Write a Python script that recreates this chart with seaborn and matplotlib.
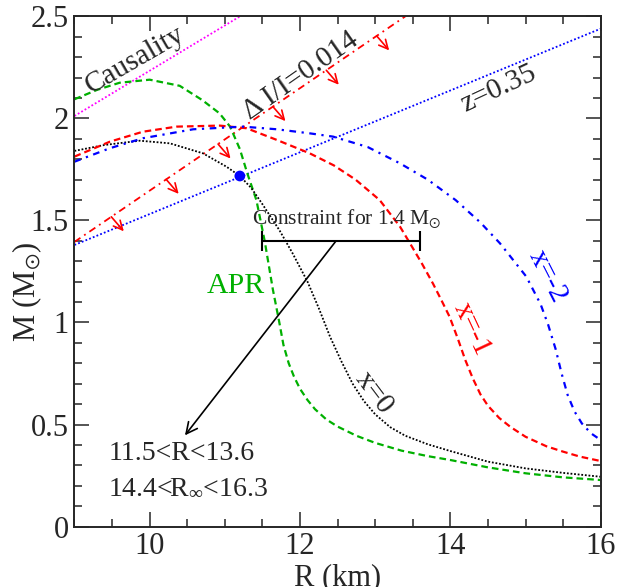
import matplotlib
matplotlib.use("Agg")
import matplotlib.pyplot as plt
import numpy as np
import seaborn as sns

# mass-radius curves (R in km, M in solar masses)
apr_R = [9.0, 9.3, 9.6, 10.0, 10.4, 10.7, 10.93, 11.07, 11.2, 11.3, 11.42, 11.53, 11.64,
         11.72, 11.78, 11.85, 11.92, 12.0, 12.1, 12.2, 12.35, 12.5, 12.75, 13.0, 13.35, 13.7,
         14.0, 14.5, 15.0, 15.5, 16.0]
apr_M = [2.094, 2.14, 2.175, 2.19, 2.16, 2.09, 2.025, 1.96, 1.85, 1.73, 1.60, 1.40, 1.16,
         1.01, 0.89, 0.80, 0.735, 0.675, 0.62, 0.575, 0.525, 0.49, 0.445, 0.41, 0.372, 0.345,
         0.326, 0.29, 0.261, 0.241, 0.228]

x0_R = [9.0, 9.4, 9.87, 10.27, 10.71, 11.02, 11.2, 11.35, 11.5, 11.73, 11.9, 12.1, 12.25,
        12.4, 12.55, 12.7, 12.85, 13.0, 13.2, 13.4, 13.7, 14.0, 14.5, 15.0, 15.5, 16.0]
x0_M = [1.841, 1.87, 1.891, 1.878, 1.829, 1.764, 1.718, 1.66, 1.58, 1.45, 1.34, 1.20, 1.07,
        0.93, 0.81, 0.70, 0.615, 0.55, 0.487, 0.445, 0.403, 0.37, 0.318, 0.285, 0.263, 0.244]

x1_R = [9.0, 9.47, 9.91, 10.36, 10.93, 11.29, 11.69, 12.13, 12.45, 12.74, 13.06, 13.33, 13.46,
        13.62, 13.77, 13.88, 13.99, 14.1, 14.2, 14.3, 14.4, 14.5, 14.65, 14.8, 15.0, 15.28,
        15.5, 15.72, 16.0]
x1_M = [1.813, 1.886, 1.935, 1.96, 1.965, 1.952, 1.895, 1.829, 1.77, 1.70, 1.60, 1.47, 1.39,
        1.29, 1.19, 1.11, 1.028, 0.92, 0.815, 0.725, 0.648, 0.592, 0.532, 0.488, 0.44, 0.393,
        0.367, 0.343, 0.321]

x2_R = [9.0, 9.47, 9.91, 10.58, 11.24, 11.69, 12.13, 12.44, 12.9, 13.33, 13.7, 14.07, 14.4,
        14.66, 15.01, 15.2, 15.3, 15.4, 15.48, 15.56, 15.65, 15.75, 15.87, 16.0]
x2_M = [1.788, 1.854, 1.903, 1.947, 1.96, 1.947, 1.927, 1.911, 1.86, 1.78, 1.70, 1.60, 1.49,
        1.388, 1.225, 1.09, 0.99, 0.87, 0.75, 0.645, 0.565, 0.505, 0.457, 0.424]

# straight constraint lines
causal_R = [9.0, 11.2]
causal_M = [2.012, 2.50]
z_R = [9.0, 16.0]
z_M = [1.38, 2.44]
dI_R = [9.0, 13.4]
dI_M = [1.395, 2.50]
dI_arrow_R = [9.49, 10.22, 10.91, 11.64, 12.35, 13.02]

# measured point and 1.4 Msun radius constraint
star_R = [11.2]
star_M = [1.718]
constraint_R = [11.5, 13.6]
constraint_M = 1.4

sns.set_style("ticks")
plt.rcParams['font.family'] = ['Liberation Serif', 'DejaVu Serif']
plt.rcParams['mathtext.fontset'] = 'stix'
plt.rcParams['mathtext.default'] = 'regular'

green = '#00b000'

fig = plt.figure(figsize=(6.31, 5.87), dpi=100)
ax = fig.add_axes([0.118, 0.103, 0.834, 0.869])

sns.lineplot(x=causal_R, y=causal_M, ax=ax, color='#ff00ff', lw=1.3, linestyle=(0, (1, 1.2)))
sns.lineplot(x=z_R, y=z_M, ax=ax, color='blue', lw=1.3, linestyle=(0, (1, 1.2)))
sns.lineplot(x=dI_R, y=dI_M, ax=ax, color='red', lw=1.3, linestyle=(0, (4, 2.5, 1, 2.5)))

sns.lineplot(x=apr_R, y=apr_M, ax=ax, sort=False, color=green, lw=1.6, linestyle=(0, (3, 1.8)))
sns.lineplot(x=x0_R, y=x0_M, ax=ax, sort=False, color='black', lw=1.3, linestyle=(0, (1, 1)))
sns.lineplot(x=x1_R, y=x1_M, ax=ax, sort=False, color='red', lw=1.6, linestyle=(0, (3, 1.8)))
sns.lineplot(x=x2_R, y=x2_M, ax=ax, sort=False, color='blue', lw=1.6, linestyle=(0, (3, 2.5, 1, 2.5)))

sns.scatterplot(x=star_R, y=star_M, ax=ax, color='blue', s=60, edgecolor='none', zorder=5)

# red arrows on the moment-of-inertia line
for r in dI_arrow_R:
    m = np.interp(r, dI_R, dI_M)
    ax.annotate('', xy=(r + 0.166, m - 0.071), xytext=(r, m),
                arrowprops=dict(arrowstyle='->', color='red', lw=1.2,
                                mutation_scale=16, shrinkA=0, shrinkB=0))

# radius constraint bar
mid = (constraint_R[0] + constraint_R[1]) / 2
half = (constraint_R[1] - constraint_R[0]) / 2
ax.errorbar(mid, constraint_M, xerr=half, fmt='none', ecolor='black',
            elinewidth=1.5, capsize=7.5, capthick=1.5)
ax.text(12.62, 1.51, r'Constraint for 1.4 M$_{\odot}$', fontsize=15.5,
        ha='center', va='center')
ax.annotate('', xy=(10.47, 0.447), xytext=(12.48, constraint_M),
            arrowprops=dict(arrowstyle='->', color='black', lw=1.2,
                            mutation_scale=20, shrinkA=0, shrinkB=0))

ax.text(9.45, 0.36, '11.5<R<13.6', fontsize=20, ha='left', va='center')
ax.text(9.45, 0.19, r'14.4<R$_{\infty}$<16.3', fontsize=20, ha='left', va='center')

ax.text(9.80, 2.287, 'Causality', fontsize=21, rotation=30, ha='center', va='center')
ax.text(12.01, 2.208, 'Δ I/I=0.014', fontsize=21, rotation=35, ha='center', va='center')
ax.text(14.64, 2.145, 'z=0.35', fontsize=21, rotation=25, ha='center', va='center')
ax.text(11.15, 1.18, 'APR', fontsize=21.5, color=green, ha='center', va='center')
ax.text(12.98, 0.654, 'x=0', fontsize=21, rotation=-53, ha='center', va='center')
ax.text(14.29, 0.968, 'x=-1', fontsize=21, rotation=-65, color='red', ha='center', va='center')
ax.text(15.29, 1.228, 'x=-2', fontsize=21, rotation=-63, color='blue', ha='center', va='center')

ax.set_xlim(9, 16)
ax.set_ylim(0, 2.5)
ax.set_xticks([10, 12, 14, 16])
ax.set_xticks(np.arange(9, 16.01, 0.5), minor=True)
ax.set_yticks([0, 0.5, 1, 1.5, 2, 2.5])
ax.set_yticklabels(['0', '0.5', '1', '1.5', '2', '2.5'])
ax.set_yticks(np.arange(0, 2.501, 0.1), minor=True)
ax.tick_params(which='both', direction='in', top=True, right=True, labelsize=22, width=1.1)
ax.tick_params(which='major', length=10.8, pad=4)
ax.tick_params(which='minor', length=5.8)
for s in ax.spines.values():
    s.set_linewidth(1.4)

ax.set_xlabel('R (km)', fontsize=22)
ax.set_ylabel(r'M (M$_{\odot}$)', fontsize=22)
ax.xaxis.set_label_coords(0.5, -0.072)
ax.yaxis.set_label_coords(-0.058, 0.46)

fig.savefig('out.png', dpi=100)
